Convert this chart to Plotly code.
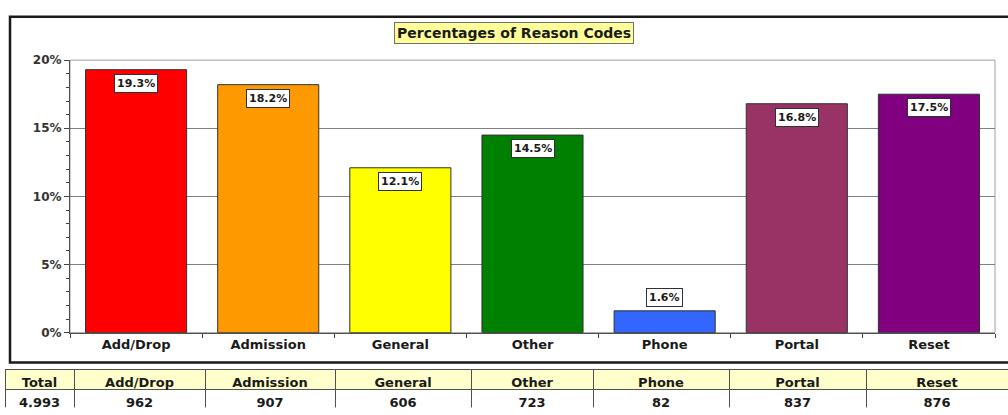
import plotly.graph_objects as go

categories = ["Add/Drop", "Admission", "General", "Other", "Phone", "Portal", "Reset"]
percentages = [19.3, 18.2, 12.1, 14.5, 1.6, 16.8, 17.5]
counts = [962, 907, 606, 723, 82, 837, 876]
total = 4993
bar_colors = ["#FF0000", "#FF9900", "#FFFF00", "#008000", "#3366FF", "#993366", "#800080"]
y_ticks = [0, 5, 10, 15, 20]
title_text = "Percentages of Reason Codes"

W, H = 1008, 415
FONT = "DejaVu Sans"

def px(x):
    return x / W

def py(y):
    return (H - y) / H

fig = go.Figure()

fig.add_trace(go.Bar(
    x=categories, y=percentages,
    marker=dict(color=bar_colors, line=dict(color="#303030", width=1)),
    width=0.765,
    hoverinfo="skip",
    xaxis="x", yaxis="y",
))

header_vals = ["Total"] + categories
cell_vals = [["{:,}".format(total)]] + [["{:,}".format(v)] for v in counts]
fig.add_trace(go.Table(
    domain=dict(x=[px(5), 1.0], y=[0, py(375)]),
    columnwidth=[69, 131, 130, 136, 122, 136, 137, 142],
    header=dict(values=header_vals, fill_color="#FFFFCC", line=dict(color="#505050", width=1),
                align="center", height=20,
                font=dict(family=FONT, size=13, color="#1a1a1a", weight="bold")),
    cells=dict(values=cell_vals, fill_color="white", line=dict(color="#505050", width=1),
               align="center", height=20,
               font=dict(family=FONT, size=13, color="#1a1a1a", weight="bold")),
))

annotations = []
for c, v in zip(categories, percentages):
    inside = v >= 5
    annotations.append(dict(
        x=c, y=v, xref="x", yref="y",
        text="<b>%.1f%%</b>" % v,
        showarrow=False,
        yanchor="top" if inside else "bottom",
        yshift=-4 if inside else 4,
        font=dict(family=FONT, size=11, color="#1a1a1a"),
        bgcolor="white", bordercolor="#303030", borderwidth=1, borderpad=2,
    ))

annotations.append(dict(
    x=px(514), y=py(27), xref="paper", yref="paper",
    text="<b>%s</b>" % title_text, showarrow=False,
    xanchor="center", yanchor="middle",
    font=dict(family=FONT, size=14, color="#1a1a1a"),
    bgcolor="#FFFF99", bordercolor="#707070", borderwidth=1, borderpad=2,
))

shapes = [
    dict(type="rect", xref="paper", yref="paper", x0=px(10), x1=px(1012), y0=py(368), y1=py(10),
         line=dict(color="#1a1a1a", width=2.5), layer="below"),
    dict(type="rect", xref="paper", yref="paper", x0=px(70), x1=px(995), y0=py(337), y1=py(55),
         line=dict(color="#A0A0A0", width=1), layer="below"),
]

fig.update_layout(
    width=W, height=H,
    margin=dict(l=0, r=0, t=0, b=0),
    paper_bgcolor="white", plot_bgcolor="white",
    showlegend=False,
    font=dict(family=FONT, color="#1a1a1a"),
    xaxis=dict(domain=[px(70), px(995)], anchor="y",
               tickson="boundaries", ticks="outside", ticklen=4, tickcolor="#404040",
               showline=True, linecolor="#505050", linewidth=1,
               tickfont=dict(family=FONT, size=13, color="#1a1a1a"),
               tickprefix="<b>", ticksuffix="</b>", showgrid=False, fixedrange=True),
    yaxis=dict(domain=[py(337), py(55)], anchor="x", range=[0, 20],
               tickvals=y_ticks, ticktext=["<b>%d%%</b>" % t for t in y_ticks],
               ticks="outside", ticklen=5, tickcolor="#404040",
               minor=dict(dtick=1, ticks="outside", ticklen=3, tickcolor="#404040", showgrid=False),
               showline=True, linecolor="#505050", linewidth=1,
               showgrid=True, gridcolor="#808080", gridwidth=1,
               tickfont=dict(family=FONT, size=12, color="#333333"),
               zeroline=False, fixedrange=True),
    annotations=annotations,
    shapes=shapes,
    bargap=0.235,
)

post = (
    "document.documentElement.style.margin='0';"
    "document.body.style.margin='0';"
    "document.body.style.overflow='hidden';"
    "var gd=document.getElementById('{plot_id}');"
    "gd.style.position='fixed';gd.style.left='0px';gd.style.top='0px';"
)

fig.write_html("out.html", post_script=post, config={"displayModeBar": False})
